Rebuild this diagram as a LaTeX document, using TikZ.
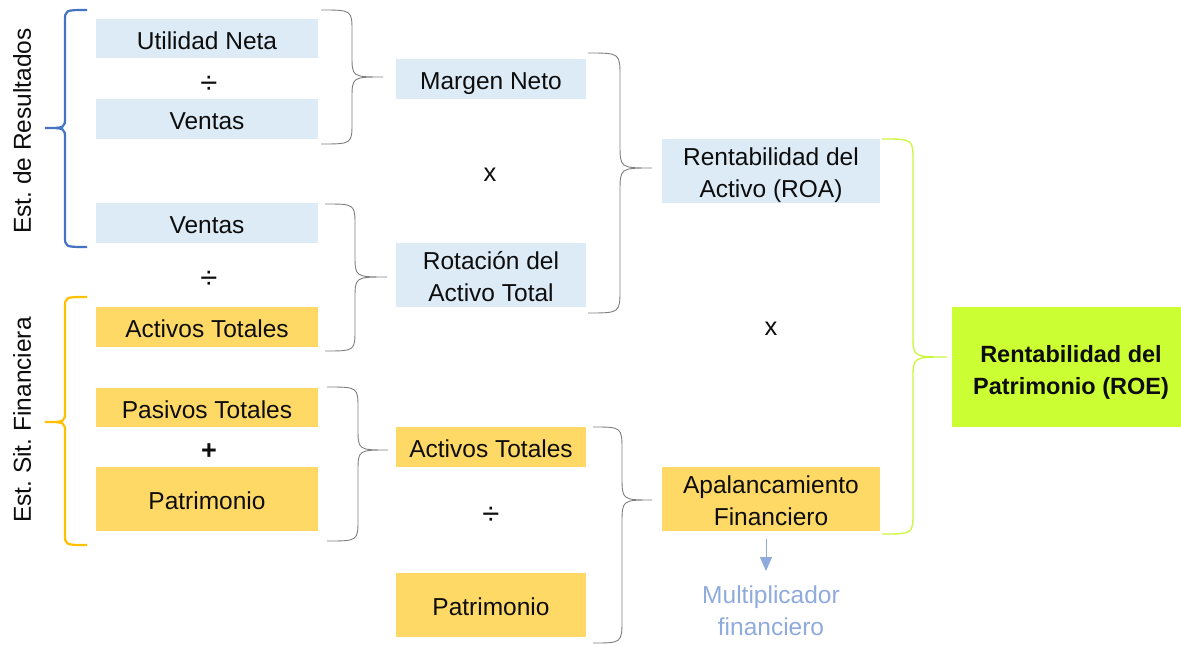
\documentclass[tikz,border=0pt]{standalone}
\usepackage{fontspec}
\setmainfont{Liberation Sans}
\usetikzlibrary{arrows.meta}
\frenchspacing
\definecolor{bfill}{HTML}{DDEBF7}
\definecolor{yfill}{HTML}{FFD966}
\definecolor{gfill}{HTML}{CCFF33}
\definecolor{bbr}{HTML}{4472C4}
\definecolor{ybr}{HTML}{FFC000}
\definecolor{gbr}{HTML}{CCF53C}
\definecolor{grbr}{HTML}{7F7F7F}
\definecolor{multc}{HTML}{8FAADC}
\definecolor{txt}{HTML}{0D0D0D}
\newcommand\bs{\rule[-5pt]{0pt}{31pt}}
\newcommand\mybrace[8]{%
  \draw[#1] (#2,#5) .. controls (#3,#5) .. (#3,#5+#8) -- (#3,#6-#8)
    .. controls (#3,#6) .. (#4,#6) .. controls (#3,#6) .. (#3,#6+#8)
    -- (#3,#7-#8) .. controls (#3,#7) .. (#2,#7);}
\begin{document}
\begin{tikzpicture}[x=1pt,y=-1pt,
  every node/.style={font=\fontsize{24.5}{32}\selectfont, text=txt, inner sep=0pt},
  bluebox/.style={fill=bfill, align=center},
  yelbox/.style={fill=yfill, align=center},
  lw/.style={minimum width=222pt},
  mw/.style={minimum width=190pt},
  rw/.style={minimum width=218pt},
  grayb/.style={draw=grbr, line width=0.9pt},
  blueb/.style={draw=bbr, line width=2.2pt},
  yelb/.style={draw=ybr, line width=2.2pt},
  greenb/.style={draw=gbr, line width=1.3pt},
  divop/.style={font=\fontsize{31}{32}\selectfont},
  mulop/.style={font=\fontsize{25.5}{32}\selectfont}]
\useasboundingbox (0,0) rectangle (1181,645);
% left column
\node[bluebox, lw, minimum height=39pt] (un) at (207,38.5) {\bs Utilidad Neta};
\node[divop] (d1) at (209,85) {÷};
\node[bluebox, lw, minimum height=40pt] (v1) at (207,119) {\bs Ventas};
\node[bluebox, lw, minimum height=40pt] (v2) at (207,223) {\bs Ventas};
\node[divop] (d2) at (209,280) {÷};
\node[yelbox, lw, minimum height=40pt] (at1) at (207,327) {\bs Activos Totales};
\node[yelbox, lw, minimum height=39pt] (pt) at (207,407.5) {\bs Pasivos Totales};
\node[font=\fontsize{27}{30}\bfseries] (pl) at (209,452) {+};
\node[yelbox, lw, minimum height=64pt] (pat1) at (207,499) {\bs Patrimonio};
% side labels
\node[rotate=90] (er) at (22,131) {Est. de Resultados};
\node[rotate=90] (esf) at (22,420) {Est. Sit. Financiera};
% middle column
\node[bluebox, mw, minimum height=40pt] (mn) at (491,79) {\bs Margen Neto};
\node[mulop] (x1) at (490,175) {x};
\node[bluebox, mw, minimum height=64pt] (rot) at (491,275) {\bs Rotación del\\\bs Activo Total};
\node[yelbox, mw, minimum height=40pt] (at2) at (491,447) {\bs Activos Totales};
\node[divop] (d3) at (491,516) {÷};
\node[yelbox, mw, minimum height=64pt] (pat2) at (491,605) {\bs Patrimonio};
% right columns
\node[bluebox, rw, minimum height=64pt] (roa) at (771,171) {\bs Rentabilidad del\\\bs Activo (ROA)};
\node[mulop] (x2) at (771,329) {x};
\node[yelbox, rw, minimum height=64pt] (apal) at (771,499) {\bs Apalancamiento\\\bs Financiero};
\node[fill=gfill, minimum width=229pt, minimum height=120pt] (roe) at (1066.5,367) {};
\node[align=center, font=\fontsize{23.5}{32}\bfseries\selectfont] (roet) at (1071,367.5) {\bs Rentabilidad del\\\bs Patrimonio (ROE)};
\node[align=center, text=multc] (mult) at (771,608.5) {\bs Multiplicador\\\bs financiero};
\coordinate (arrtop) at (766,539);
\coordinate (arrbot) at (766,571);
\draw[multc, line width=1pt, -{Triangle[width=12pt,length=14pt]}] (arrtop) -- (arrbot);
% braces
\mybrace{blueb}{87}{65}{45}{10}{128}{247}{11}
\mybrace{yelb}{87}{65}{45}{297}{422}{545}{11}
\mybrace{grayb}{321}{352}{383}{10}{77}{144}{22}
\mybrace{grayb}{325}{355}{387}{204}{277}{351}{22}
\mybrace{grayb}{327}{358}{388}{387}{450}{541}{22}
\mybrace{grayb}{588}{620}{652}{53}{168}{313}{24}
\mybrace{grayb}{593}{622}{652}{427}{500}{643}{24}
\mybrace{greenb}{882}{913}{947}{139}{357}{534}{22}
\end{tikzpicture}
\end{document}
